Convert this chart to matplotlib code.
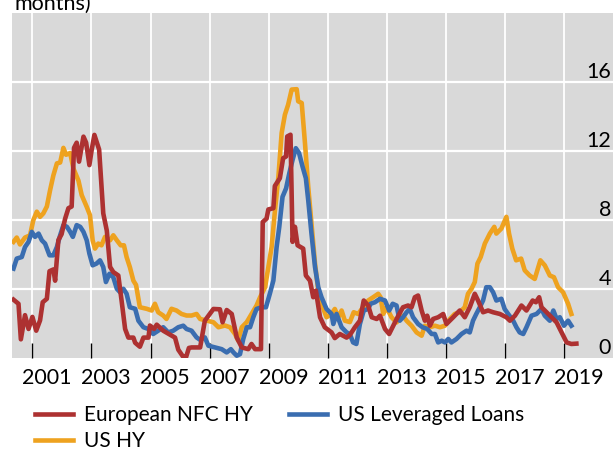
import matplotlib
matplotlib.use("Agg")
import matplotlib.pyplot as plt

plt.rcParams['font.family'] = ['Lato', 'DejaVu Sans']

# --- data (decimal years, months) ---
eur_years = [2000.36, 2000.53, 2000.61, 2000.75, 2000.87, 2001.0, 2001.13, 2001.26, 2001.35, 2001.49,
             2001.58, 2001.71, 2001.77, 2001.88, 2001.99, 2002.11, 2002.22, 2002.33, 2002.41, 2002.50,
             2002.58, 2002.73, 2002.82, 2002.93, 2003.01, 2003.10, 2003.26, 2003.40, 2003.52, 2003.63,
             2003.74, 2003.91, 2004.02, 2004.14, 2004.25, 2004.42, 2004.48, 2004.64, 2004.76, 2004.93,
             2004.98, 2005.12, 2005.21, 2005.43, 2005.66, 2005.83, 2005.94, 2006.10, 2006.20, 2006.30,
             2006.39, 2006.68, 2006.84, 2007.13, 2007.35, 2007.44, 2007.58, 2007.75, 2007.92, 2008.09,
             2008.31, 2008.42, 2008.54, 2008.74, 2008.80, 2008.93, 2008.99, 2009.16, 2009.21, 2009.38,
             2009.49, 2009.59, 2009.63, 2009.74, 2009.81, 2009.89, 2009.98, 2010.17, 2010.26, 2010.40,
             2010.51, 2010.60, 2010.74, 2010.90, 2011.13, 2011.24, 2011.41, 2011.64, 2011.75, 2011.92,
             2012.09, 2012.22, 2012.37, 2012.49, 2012.66, 2012.77, 2012.94, 2013.08, 2013.22, 2013.39,
             2013.55, 2013.72, 2013.84, 2013.95, 2014.06, 2014.18, 2014.29, 2014.37, 2014.46, 2014.57,
             2014.74, 2014.91, 2015.02, 2015.25, 2015.47, 2015.64, 2015.81, 2015.98, 2016.09, 2016.26,
             2016.43, 2016.60, 2016.83, 2017.05, 2017.17, 2017.34, 2017.56, 2017.73, 2017.94, 2018.05,
             2018.16, 2018.24, 2018.41, 2018.58, 2018.75, 2018.92, 2019.09, 2019.25, 2019.42]
eur_vals = [3.4, 3.16, 1.1, 2.5, 1.7, 2.4, 1.6, 2.2, 3.25, 3.45,
            5.05, 5.15, 4.5, 6.85, 7.2, 8.1, 8.7, 8.8, 12.2, 12.5,
            11.4, 12.85, 12.5, 11.2, 12.1, 12.95, 12.1, 8.4, 7.4, 5.3,
            5.0, 4.8, 3.35, 1.7, 1.2, 1.2, 0.9, 0.67, 1.2, 1.2,
            1.9, 1.7, 1.95, 1.6, 1.37, 1.2, 0.5, 0.1, 0.05, 0.6,
            0.63, 0.63, 2.18, 2.86, 2.84, 2.09, 2.8, 2.57, 1.21, 0.63,
            0.53, 0.83, 0.53, 0.53, 7.9, 8.1, 8.63, 8.7, 9.99, 10.44,
            11.6, 11.7, 12.86, 12.96, 6.75, 7.62, 6.55, 6.36, 4.8, 4.5,
            3.54, 3.92, 2.38, 1.8, 1.5, 1.17, 1.41, 1.2, 1.35, 1.8,
            2.18, 3.35, 3.06, 2.38, 2.28, 2.47, 1.7, 1.41, 1.89, 2.47,
            2.96, 3.06, 2.96, 3.54, 3.64, 2.77, 2.18, 2.47, 1.89, 2.28,
            2.38, 2.57, 1.99, 2.38, 2.77, 2.38, 2.96, 3.74, 3.35, 2.67,
            2.77, 2.67, 2.57, 2.38, 2.18, 2.47, 3.06, 2.77, 3.35, 3.25,
            3.54, 2.96, 2.67, 2.38, 2.08, 1.5, 0.92, 0.83, 0.85]

ushy_years = [2000.36, 2000.47, 2000.58, 2000.75, 2000.92, 2001.03, 2001.15, 2001.26, 2001.37, 2001.49,
              2001.60, 2001.71, 2001.83, 2001.94, 2002.05, 2002.14, 2002.28, 2002.39, 2002.56, 2002.67,
              2002.84, 2002.95, 2003.04, 2003.12, 2003.23, 2003.34, 2003.46, 2003.63, 2003.74, 2003.86,
              2003.99, 2004.10, 2004.19, 2004.30, 2004.42, 2004.51, 2004.64, 2004.87, 2005.04, 2005.15,
              2005.26, 2005.43, 2005.54, 2005.71, 2005.88, 2006.05, 2006.22, 2006.39, 2006.56, 2006.68,
              2006.91, 2007.13, 2007.30, 2007.52, 2007.69, 2007.86, 2007.97, 2008.09, 2008.26, 2008.42,
              2008.59, 2008.71, 2008.88, 2008.99, 2009.10, 2009.21, 2009.33, 2009.44, 2009.55, 2009.66,
              2009.78, 2009.95, 2010.00, 2010.12, 2010.23, 2010.34, 2010.45, 2010.57, 2010.68, 2010.79,
              2010.96, 2011.13, 2011.24, 2011.36, 2011.47, 2011.58, 2011.75, 2011.88, 2012.03, 2012.20,
              2012.37, 2012.54, 2012.71, 2012.79, 2012.88, 2012.99, 2013.16, 2013.33, 2013.55, 2013.67,
              2013.84, 2014.01, 2014.18, 2014.29, 2014.46, 2014.63, 2014.80, 2014.97, 2015.14, 2015.30,
              2015.47, 2015.64, 2015.75, 2015.87, 2015.98, 2016.07, 2016.18, 2016.32, 2016.49, 2016.64,
              2016.71, 2016.88, 2017.05, 2017.14, 2017.25, 2017.38, 2017.55, 2017.67, 2017.84, 2018.01,
              2018.20, 2018.35, 2018.52, 2018.66, 2018.80, 2018.97, 2019.14, 2019.25]
ushy_vals = [6.75, 7.0, 6.6, 7.0, 7.13, 8.0, 8.5, 8.2, 8.4, 8.8,
             9.75, 10.6, 11.3, 11.35, 12.2, 11.8, 11.9, 11.0, 10.3, 9.46,
             8.78, 8.3, 6.84, 6.36, 6.65, 6.55, 7.04, 6.84, 7.13, 6.84,
             6.55, 6.55, 5.87, 5.29, 4.5, 4.25, 2.96, 2.87, 2.77, 3.16,
             2.67, 2.48, 2.28, 2.87, 2.77, 2.57, 2.48, 2.48, 2.57, 2.28,
             2.18, 2.09, 1.8, 1.9, 1.8, 1.41, 1.02, 1.8, 2.1, 2.57,
             3.06, 3.54, 4.12, 5.29, 6.45, 8.5, 10.53, 13.06, 14.12, 14.7,
             15.58, 15.6, 14.9, 14.8, 12.47, 9.95, 7.81, 5.49, 3.93, 3.16,
             2.38, 2.57, 2.86, 2.38, 2.77, 2.18, 2.1, 2.67, 2.57, 2.96,
             3.35, 3.54, 3.74, 3.54, 2.57, 2.96, 2.38, 2.08, 2.47, 2.18,
             1.89, 1.5, 1.31, 1.89, 1.8, 1.89, 1.8, 1.89, 2.28, 2.57,
             2.67, 2.96, 3.74, 4.03, 4.42, 5.49, 5.87, 6.65, 7.23, 7.62,
             7.23, 7.52, 8.2, 7.23, 6.36, 5.68, 5.78, 5.1, 4.8, 4.6,
             5.68, 5.39, 4.8, 4.7, 4.12, 3.83, 3.16, 2.57]

usll_years = [2000.36, 2000.47, 2000.64, 2000.75, 2000.87, 2000.98, 2001.09, 2001.21, 2001.32, 2001.43,
              2001.58, 2001.71, 2001.83, 2001.94, 2002.05, 2002.17, 2002.28, 2002.37, 2002.50, 2002.62,
              2002.73, 2002.84, 2002.93, 2003.04, 2003.17, 2003.29, 2003.40, 2003.49, 2003.61, 2003.74,
              2003.86, 2003.97, 2004.08, 2004.19, 2004.30, 2004.48, 2004.59, 2004.76, 2004.93, 2005.09,
              2005.26, 2005.43, 2005.60, 2005.77, 2005.94, 2006.11, 2006.22, 2006.39, 2006.56, 2006.68,
              2006.84, 2006.96, 2007.19, 2007.41, 2007.58, 2007.72, 2007.81, 2007.92, 2008.03, 2008.14,
              2008.26, 2008.37, 2008.48, 2008.59, 2008.76, 2008.91, 2009.04, 2009.16, 2009.27, 2009.36,
              2009.47, 2009.59, 2009.70, 2009.81, 2009.92, 2010.03, 2010.15, 2010.26, 2010.34, 2010.45,
              2010.57, 2010.68, 2010.79, 2010.96, 2011.13, 2011.19, 2011.30, 2011.47, 2011.64, 2011.75,
              2011.86, 2011.97, 2012.09, 2012.22, 2012.37, 2012.45, 2012.60, 2012.77, 2012.94, 2013.08,
              2013.20, 2013.33, 2013.44, 2013.55, 2013.67, 2013.78, 2013.89, 2014.06, 2014.21, 2014.37,
              2014.52, 2014.63, 2014.74, 2014.86, 2014.97, 2015.08, 2015.19, 2015.36, 2015.53, 2015.70,
              2015.81, 2015.92, 2016.03, 2016.15, 2016.26, 2016.37, 2016.49, 2016.60, 2016.71, 2016.88,
              2016.99, 2017.11, 2017.28, 2017.39, 2017.50, 2017.62, 2017.73, 2017.90, 2018.07, 2018.24,
              2018.35, 2018.52, 2018.64, 2018.75, 2018.86, 2019.00, 2019.14, 2019.25]
usll_vals = [5.2, 5.78, 5.87, 6.45, 6.75, 7.33, 7.04, 7.23, 6.84, 6.65,
             5.97, 5.97, 6.45, 7.13, 7.72, 7.62, 7.33, 7.04, 7.72, 7.62,
             7.33, 6.84, 6.07, 5.39, 5.49, 5.68, 5.29, 4.42, 4.9, 4.7,
             4.03, 3.83, 4.03, 3.74, 2.96, 2.87, 2.18, 1.8, 1.7, 1.41,
             1.6, 1.8, 1.5, 1.6, 1.8, 1.89, 1.7, 1.6, 1.21, 1.07,
             1.21, 0.73, 0.63, 0.53, 0.34, 0.53, 0.34, 0.15, 0.24, 1.12,
             1.8, 1.8, 2.38, 2.86, 2.96, 2.96, 3.74, 4.51, 6.45, 7.62,
             9.36, 9.85, 10.73, 11.5, 12.18, 11.9, 11.1, 10.44, 9.17, 7.23,
             5.29, 4.12, 3.54, 2.86, 2.57, 1.99, 2.57, 1.8, 1.5, 1.4,
             0.92, 0.83, 1.99, 2.77, 2.86, 3.16, 3.25, 3.45, 3.35, 2.77,
             3.16, 3.06, 2.18, 2.38, 2.67, 2.86, 2.38, 1.99, 1.8, 1.7,
             1.41, 1.41, 0.92, 1.02, 0.92, 1.12, 0.92, 1.12, 1.41, 1.6,
             1.5, 2.18, 2.57, 2.96, 3.35, 4.12, 4.12, 3.83, 3.35, 3.45,
             2.86, 2.57, 2.18, 1.8, 1.5, 1.41, 1.8, 2.47, 2.57, 2.86,
             2.47, 2.18, 2.77, 2.28, 2.38, 1.89, 2.18, 1.89]

series_labels = ["European NFC HY", "US HY", "US Leveraged Loans"]
year_ticks = list(range(2001, 2020, 2))
y_ticks = [0, 4, 8, 12, 16]

RED = "#AD3131"
ORANGE = "#EEA21F"
BLUE = "#3A6DB0"

fig = plt.figure(figsize=(6.13, 4.5), dpi=100)
ax = fig.add_axes([12.3 / 613, 1 - 358.3 / 450, 1 - 12.3 / 613, (358.3 - 13.3) / 450])
ax.set_facecolor("#D9D9D9")
for s in ax.spines.values():
    s.set_visible(False)

l_hy, = ax.plot(ushy_years, ushy_vals, color=ORANGE, lw=3.3, zorder=3)
l_ll, = ax.plot(usll_years, usll_vals, color=BLUE, lw=3.3, zorder=4)
l_eu, = ax.plot(eur_years, eur_vals, color=RED, lw=3.3, zorder=5)

ax.set_xlim(2000.32, 2020.66)
ax.set_ylim(0, 20)

# x: ticks at start of odd years, labels at mid-year
ax.set_xticks(year_ticks)
ax.set_xticklabels([])
ax.set_xticks([y + 0.5 for y in year_ticks], minor=True)
ax.set_xticklabels([str(y) for y in year_ticks], minor=True, fontsize=15.5)
ax.tick_params(axis="x", which="major", direction="in", length=10.8, width=1, color="black")
ax.tick_params(axis="x", which="minor", length=0, pad=7)
ax.grid(axis="x", which="major", color="white", lw=1.3)

# y: labels inside on the right, sitting above the gridline
ax.set_yticks(y_ticks)
ax.yaxis.tick_right()
ax.tick_params(axis="y", length=0, pad=-1.5, labelsize=15.5)
for lab in ax.get_yticklabels():
    lab.set_horizontalalignment("right")
    lab.set_verticalalignment("bottom")
ax.grid(axis="y", color="white", lw=1.6)
ax.yaxis.get_gridlines()[0].set_visible(False)
ax.set_axisbelow(True)

fig.text(14 / 613, 1 - 10 / 450, "months)", fontsize=15.5, va="baseline", ha="left")

fig.legend([l_eu, l_hy, l_ll], series_labels, ncol=2, frameon=False,
           loc="upper left", bbox_to_anchor=(35 / 613, 1 - 405 / 450),
           borderaxespad=0, borderpad=0, fontsize=15, handlelength=1.8,
           handletextpad=0.55, columnspacing=1.75, labelspacing=0.3)

fig.savefig("out.png", dpi=100)
